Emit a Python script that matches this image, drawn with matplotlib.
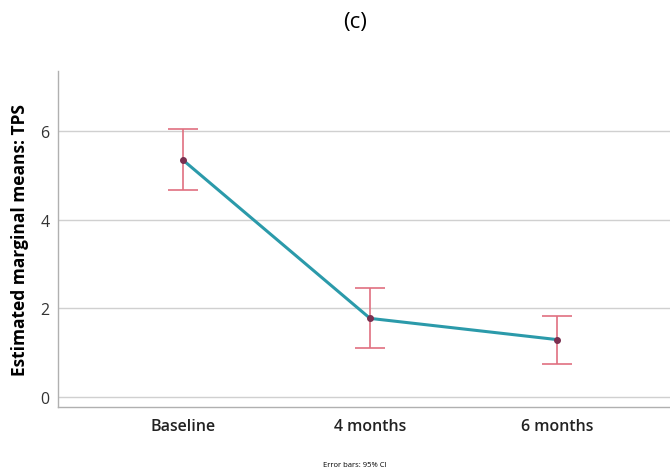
import matplotlib
matplotlib.use("Agg")
import matplotlib.pyplot as plt
import numpy as np

categories = ["Baseline", "4 months", "6 months"]
means = [5.35, 1.77, 1.29]
ci_low = [4.66, 1.10, 0.75]
ci_high = [6.04, 2.46, 1.82]
yticks = [0, 2, 4, 6]

plt.rcParams['font.family'] = ['Open Sans', 'DejaVu Sans']

fig = plt.figure(figsize=(6.7, 4.77), dpi=100)
ax = fig.add_axes([0.0866, 0.1447, 0.93, 0.704])

x = np.arange(len(categories))
m = np.array(means)
yerr = np.vstack([m - np.array(ci_low), np.array(ci_high) - m])

for yt in yticks:
    ax.axhline(yt, color="#d0d0d0", lw=1.0, zorder=0)

ax.errorbar(x, m, yerr=yerr, fmt="none", ecolor="#e07080", elinewidth=1.2,
            capsize=11, capthick=1.2, zorder=2)
ax.plot(x, m, color="#2b9aaa", lw=2.2, zorder=3)
ax.plot(x, m, "o", color="#7a3050", ms=4, zorder=4)

ax.set_xlim(-0.665, 2.66)
ax.set_ylim(-0.23, 7.35)
ax.set_yticks(yticks)
ax.set_xticks(x)
ax.set_xticklabels(categories, fontsize=11.5, fontweight="semibold", color="#222222")
ax.tick_params(axis="y", labelsize=11.5, length=0, pad=6, labelcolor="#333333")
ax.tick_params(axis="x", length=0, pad=8)
for s in ["top", "right"]:
    ax.spines[s].set_visible(False)
for s in ["left", "bottom"]:
    ax.spines[s].set_color("#b0b0b0")
    ax.spines[s].set_linewidth(1.0)

ax.set_ylabel("Estimated marginal means: TPS", fontsize=12.5, fontweight="bold", labelpad=8)
fig.text(0.53, 0.953, "(c)", ha="center", va="center", fontsize=16)
fig.text(0.53, 0.025, "Error bars: 95% CI", ha="center", va="center", fontsize=5.5)

fig.savefig("out.png", dpi=100)
